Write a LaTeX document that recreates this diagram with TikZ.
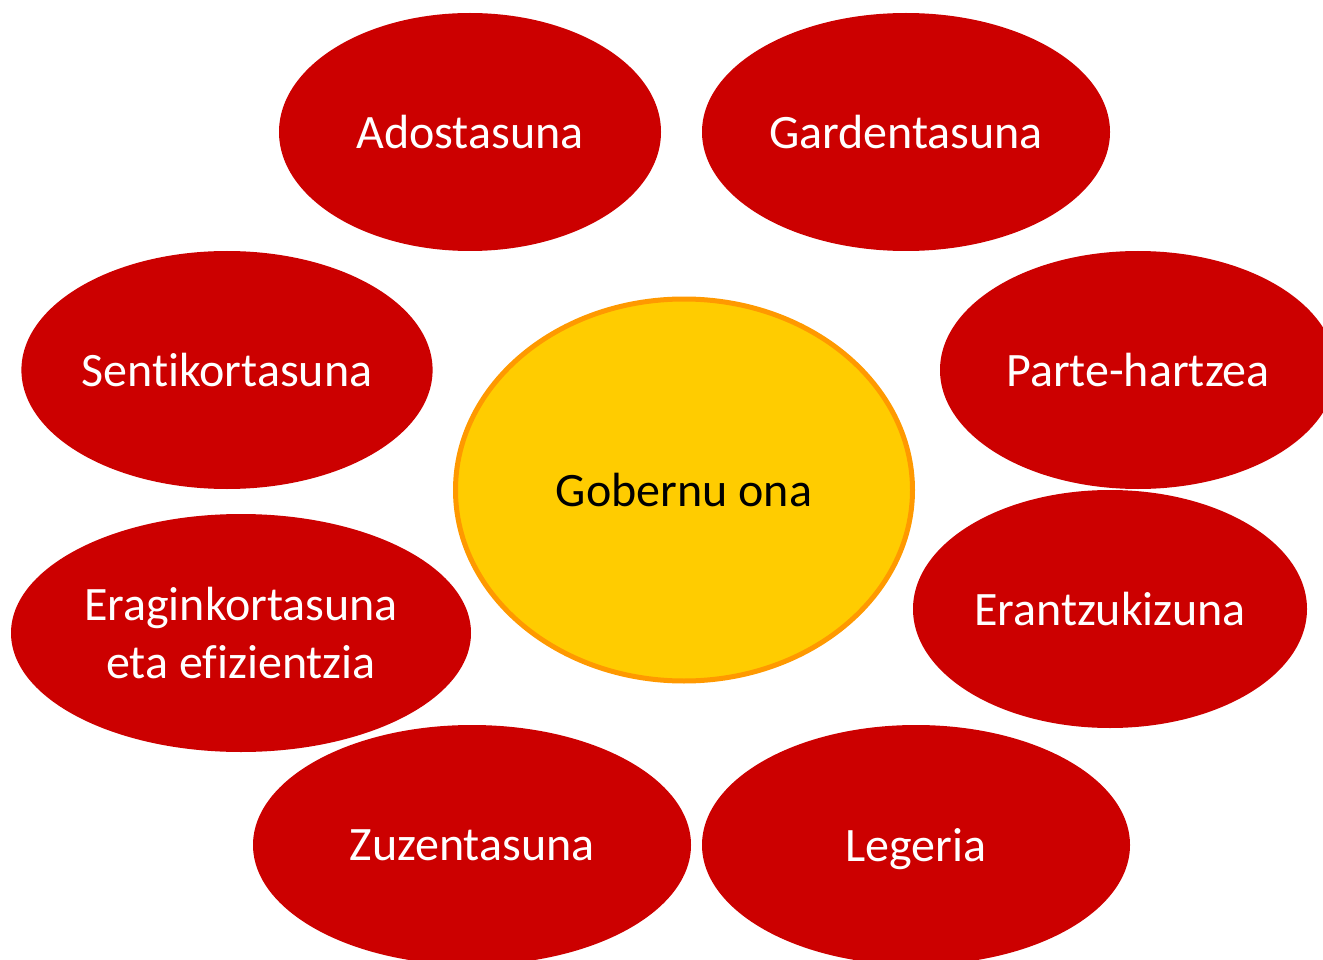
\documentclass[tikz,border=0pt]{standalone}
\usepackage{fontspec}
\setmainfont[Ligatures={NoCommon,NoContextual,NoRare},RawFeature={-liga;-clig;-dlig;-calt}]{Carlito}
\usetikzlibrary{shapes.geometric}
\definecolor{redfill}{HTML}{CC0000}
\definecolor{yelfill}{HTML}{FFCC00}
\definecolor{orline}{HTML}{FF9900}
\newcommand{\nolig}{\kern0pt\relax}
\begin{document}
\begin{tikzpicture}[x=1pt,y=-1pt,
  redell/.style={ellipse, fill=redfill, draw=none, inner sep=0pt, text=white, align=center,
    text depth=0pt, font=\fontsize{48}{57.6}\selectfont},
  centerell/.style={ellipse, fill=yelfill, draw=orline, line width=5pt, inner sep=0pt, text=black,
    text depth=0pt, font=\fontsize{48}{57.6}\selectfont}]
\useasboundingbox (0,0) rectangle (1323,960);
\clip (0,0) rectangle (1323,960);
\node[redell, minimum width=382pt, minimum height=238pt] (ado) at (470,132) {Adostasuna};
\node[redell, minimum width=408pt, minimum height=238pt] (gar) at (906,132) {Gardentasuna};
\node[redell, minimum width=408pt, minimum height=238pt] (sen) at (227,370) {Sent\nolig ikortasuna};
\node[redell, minimum width=396pt, minimum height=238pt] (par) at (1138,370) {Parte-hartzea};
\node[centerell, minimum width=457pt, minimum height=382pt] (gob) at (684,490) {Gobernu ona};
\node[redell, minimum width=394pt, minimum height=238pt] (era) at (1110,609) {Erantzukizuna};
\node[redell, minimum width=460pt, minimum height=238pt] (efi) at (241,633) {Eraginkortasuna\\eta ef\nolig izientzia};
\node[redell, minimum width=438pt, minimum height=240pt] (zuz) at (472,845) {Zuzentasuna};
\node[redell, minimum width=428pt, minimum height=240pt] (leg) at (916,845) {Legeria};
\end{tikzpicture}
\end{document}
